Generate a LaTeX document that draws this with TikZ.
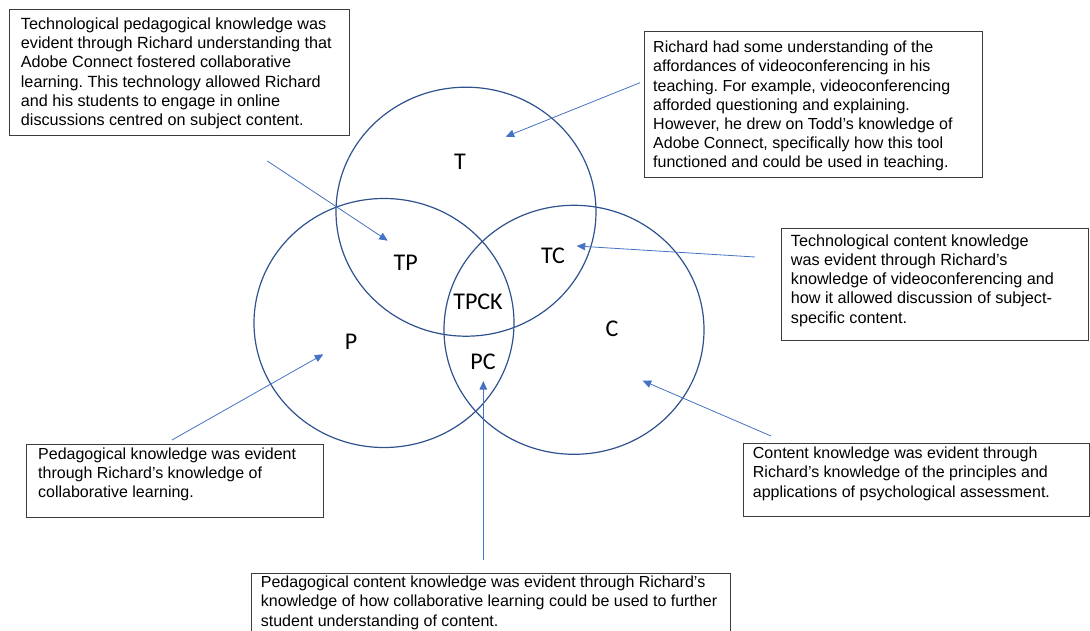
\documentclass[tikz,border=0pt]{standalone}
\usepackage{fontspec}
\setmainfont{Liberation Sans}
\newfontfamily\labelfont{Carlito}
\usetikzlibrary{arrows.meta,shapes.geometric}

\definecolor{ringblue}{HTML}{2F528F}
\definecolor{pointerblue}{HTML}{4472C4}
\definecolor{framegray}{HTML}{3C3C3C}

\tikzset{
  setring/.style={draw=ringblue, line width=1.2pt, ellipse, inner sep=0pt,
    minimum width=260pt, minimum height=249pt},
  region/.style={font=\labelfont\fontsize{24}{28}\selectfont, inner sep=0pt},
  framebox/.style={draw=framegray, line width=0.9pt, anchor=north west, inner sep=0pt},
  notetext/.style={anchor=north west, inner sep=0pt, align=left,
    font=\frenchspacing\fontsize{#1}{19.2}\selectfont},
  notetext/.default=16,
  pointer/.style={draw=pointerblue, line width=0.8pt,
    -{Triangle[length=8.5pt,width=7.5pt]}}
}

\begin{document}
\begin{tikzpicture}[x=1pt,y=-1pt]
\useasboundingbox (0,0) rectangle (1090,631);

% the three knowledge sets
\node[setring] (Tset) at (466,211.7) {};
\node[setring] (Pset) at (384,323) {};
\node[setring] (Cset) at (574,329.8) {};

% region labels
\node[region] (lT)    at (460,162) {T};
\node[region] (lTP)   at (405.7,263) {TP};
\node[region] (lTC)   at (553,256) {TC};
\node[region] (lTPCK) at (478,302) {TPCK};
\node[region] (lP)    at (351,342) {P};
\node[region] (lPC)   at (483,362) {PC};
\node[region] (lC)    at (612,329) {C};

% annotation frames
\node[framebox, minimum width=340pt, minimum height=126pt] (fTP)  at (9,9.3) {};
\node[framebox, minimum width=338pt, minimum height=146pt] (fT)   at (644,30.7) {};
\node[framebox, minimum width=307pt, minimum height=112pt] (fTC)  at (781,228.3) {};
\node[framebox, minimum width=297pt, minimum height=73pt]  (fP)   at (26,444.3) {};
\node[framebox, minimum width=346pt, minimum height=73pt]  (fC)   at (743,443.3) {};
\node[framebox, minimum width=479pt, minimum height=70pt]  (fPC)  at (251,573) {};

% annotation texts
\node[notetext=16.2] (tTP) at (20.7,17.5) {Technological pedagogical knowledge was\\
evident through Richard understanding that\\
Adobe Connect fostered collaborative\\
learning. This technology allowed Richard\\
and his students to engage in online\\
discussions centred on subject content.};

\node[notetext] (tT) at (653,41) {Richard had some understanding of the\\
affordances of videoconferencing in his\\
teaching. For example, videoconferencing\\
afforded questioning and explaining.\\
However, he drew on Todd’s knowledge of\\
Adobe Connect, specifically how this tool\\
functioned and could be used in teaching.};

\node[notetext=16.2] (tTC) at (790.7,234.3) {Technological content knowledge\\
was evident through Richard’s\\
knowledge of videoconferencing and\\
how it allowed discussion of subject-\\
specific content.};

\node[notetext] (tP) at (38,447.3) {Pedagogical knowledge was evident\\
through Richard’s knowledge of\\
collaborative learning.};

\node[notetext] (tC) at (752.7,447) {Content knowledge was evident through\\
Richard’s knowledge of the principles and\\
applications of psychological assessment.};

\node[notetext] (tPC) at (260.7,576) {Pedagogical content knowledge was evident through Richard’s\\
knowledge of how collaborative learning could be used to further\\
student understanding of content.};

% pointer ends
\coordinate (sTP) at (267.3,161);
\coordinate (eTP) at (387.7,240.7);
\coordinate (sT)  at (640,82.7);
\coordinate (eT)  at (505.7,136.7);
\coordinate (sTC) at (755,257);
\coordinate (eTC) at (576.7,246);
\coordinate (sP)  at (172,440);
\coordinate (eP)  at (323.3,354.3);
\coordinate (sPC) at (483.3,560);
\coordinate (ePC) at (483.3,381);
\coordinate (sC)  at (771,436);
\coordinate (eC)  at (642.7,380.7);

% pointers
\draw[pointer] (sTP) -- (eTP);
\draw[pointer] (sT)  -- (eT);
\draw[pointer] (sTC) -- (eTC);
\draw[pointer] (sP)  -- (eP);
\draw[pointer] (sPC) -- (ePC);
\draw[pointer] (sC)  -- (eC);
\end{tikzpicture}
\end{document}
